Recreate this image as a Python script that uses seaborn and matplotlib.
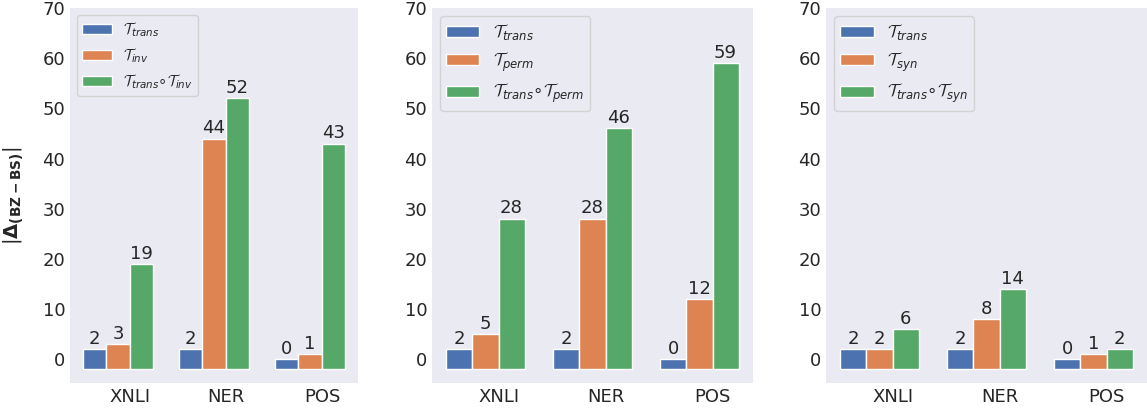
import matplotlib
matplotlib.use("Agg")
import matplotlib.pyplot as plt
import seaborn as sns
import pandas as pd

tasks = ["XNLI", "NER", "POS"]

inv_labels = [r"$\mathcal{T}_{trans}$", r"$\mathcal{T}_{inv}$",
              r"$\mathcal{T}_{trans}{\circ}\mathcal{T}_{inv}$"]
inv_trans = [2, 2, 0]
inv_only = [3, 44, 1]
inv_both = [19, 52, 43]

perm_labels = [r"$\mathcal{T}_{trans}$", r"$\mathcal{T}_{perm}$",
               r"$\mathcal{T}_{trans}{\circ}\mathcal{T}_{perm}$"]
perm_trans = [2, 2, 0]
perm_only = [5, 28, 12]
perm_both = [28, 46, 59]

syn_labels = [r"$\mathcal{T}_{trans}$", r"$\mathcal{T}_{syn}$",
              r"$\mathcal{T}_{trans}{\circ}\mathcal{T}_{syn}$"]
syn_trans = [2, 2, 0]
syn_only = [2, 8, 1]
syn_both = [6, 14, 2]

BOTTOM = -1.9

sns.set_theme(style="dark", palette="deep")
plt.rcParams["text.color"] = "#262626"
plt.rcParams["xtick.color"] = "#262626"
plt.rcParams["ytick.color"] = "#262626"
plt.rcParams["mathtext.fontset"] = "custom"
plt.rcParams["mathtext.rm"] = "DejaVu Sans"
plt.rcParams["mathtext.it"] = "DejaVu Sans:italic"
plt.rcParams["mathtext.bf"] = "DejaVu Sans:bold"
plt.rcParams["mathtext.cal"] = "cmsy10"

fig = plt.figure(figsize=(11.47, 4.09), dpi=100)
positions = [
    [70 / 1147, 1 - 383 / 409, 288 / 1147, 375 / 409],
    [432 / 1147, 1 - 383 / 409, 321 / 1147, 375 / 409],
    [826 / 1147, 1 - 383 / 409, 321 / 1147, 375 / 409],
]
legend_sizes = [10.5, 12, 12]
panels = [
    (inv_labels, [inv_trans, inv_only, inv_both]),
    (perm_labels, [perm_trans, perm_only, perm_both]),
    (syn_labels, [syn_trans, syn_only, syn_both]),
]

for i, (labels, series) in enumerate(panels):
    ax = fig.add_axes(positions[i])
    rows = []
    for lab, vals in zip(labels, series):
        for t, v in zip(tasks, vals):
            rows.append({"task": t, "kind": lab, "value": v})
    df = pd.DataFrame(rows)
    sns.barplot(data=df, x="task", y="value", hue="kind", hue_order=labels,
                width=0.73, saturation=1, edgecolor="white", linewidth=1, ax=ax)
    # bars start slightly below zero, as in the original figure
    for container, vals in zip(ax.containers, series):
        for bar in container:
            h = bar.get_height()
            bar.set_y(BOTTOM)
            bar.set_height(h - BOTTOM)
        ax.bar_label(container, labels=[str(v) for v in vals],
                     fontsize=13, padding=1, color="#262626")
    ax.set_ylim(-4.7, 70)
    ax.set_yticks(range(0, 71, 10))
    ax.set_xlim(-0.5, 2.5)
    ax.set_xticks([0.125, 1.125, 2.125])
    ax.set_xticklabels(tasks)
    ax.tick_params(labelsize=13, length=0)
    ax.set_xlabel("")
    ax.set_ylabel("")
    fs = legend_sizes[i]
    ax.legend(loc="upper left", fontsize=fs, title=None,
              handlelength=2.0, handleheight=0.65, borderpad=0.35,
              labelspacing=0.5, handletextpad=0.8,
              frameon=True, facecolor="#EAEAF2", edgecolor="#CCCCCC")
    for s in ax.spines.values():
        s.set_visible(False)
    if i == 0:
        ax.set_ylabel(r"$|\mathbf{\Delta_{(BZ-BS)}}|$", fontsize=14,
                      fontweight="bold", labelpad=12)

fig.savefig("out.png", dpi=100)
